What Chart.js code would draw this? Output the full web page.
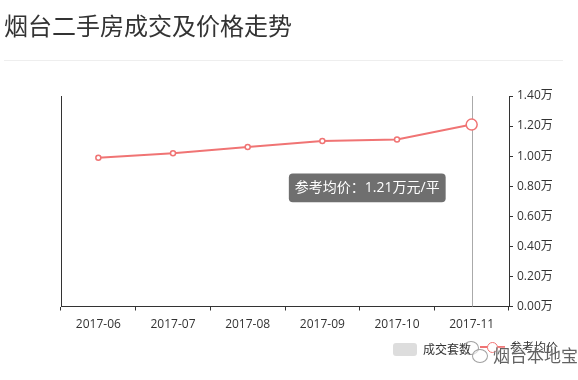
<!DOCTYPE html>
<html>
<head>
<meta charset="utf-8">
<script src="https://cdn.jsdelivr.net/npm/chart.js@4/dist/chart.umd.min.js"></script>
<style>
  body { margin: 0; background: #fff; font-family: "Open Sans", "Noto Sans CJK SC", sans-serif; }
  #wrap { position: relative; width: 578px; height: 380px; overflow: hidden; }
  #title { position: absolute; left: 4px; top: 9px; font-size: 24px; color: #333; font-family: "Noto Sans CJK SC", sans-serif; line-height: 32px; }
  #sep { position: absolute; left: 4px; top: 60px; width: 559px; height: 1px; background: #eee; }
  canvas { position: absolute; left: 0; top: 0; }
  .lg { position: absolute; font-size: 12px; color: #333; font-family: "Noto Sans CJK SC", sans-serif; line-height: 14px; }
  #box1 { position: absolute; left: 393px; top: 343px; width: 24px; height: 13px; border-radius: 3px; background: #ddd; }
  #ln2 { position: absolute; left: 480px; top: 346px; width: 25px; height: 2px; background: #f07474; }
  #dot2 { position: absolute; left: 487px; top: 342px; width: 9px; height: 9px; border: 1.5px solid #f07474; border-radius: 50%; background: #fff; }
  #wm { position: absolute; left: 493px; top: 345px; font-size: 17px; color: rgba(70,70,70,0.85); font-family: "Noto Sans CJK SC", sans-serif; line-height: 20px; text-shadow: 0 0 2px #fff; }
  #wmicon1 { position: absolute; left: 463px; top: 341px; width: 14px; height: 12px; border: 1px solid rgba(120,120,120,0.7); border-radius: 50%; }
  #wmicon2 { position: absolute; left: 472px; top: 349px; width: 14px; height: 12px; border: 1px solid rgba(120,120,120,0.7); border-radius: 50%; background: rgba(255,255,255,0.6); }
</style>
</head>
<body>
<div id="wrap">
  <canvas id="c" width="578" height="380"></canvas>
  <div id="title">烟台二手房成交及价格走势</div>
  <div id="sep"></div>
  <div id="box1"></div>
  <div class="lg" style="left:423px; top:342px;">成交套数</div>
  <div id="ln2"></div>
  <div id="dot2"></div>
  <div class="lg" style="left:510px; top:340px;">参考均价</div>
  <div id="wmicon1"></div>
  <div id="wmicon2"></div>
  <div id="wm">烟台本地宝</div>
</div>
<script>
// data
const months = ['2017-06', '2017-07', '2017-08', '2017-09', '2017-10', '2017-11'];
const dealCount = [];                                   // 成交套数 (no values shown)
const avgPrice = [0.99, 1.02, 1.06, 1.10, 1.11, 1.21];  // 参考均价, 万元/平
const priceTicks = [0, 0.2, 0.4, 0.6, 0.8, 1.0, 1.2, 1.4];

const red = '#f07474';
const axisColor = '#333';
const lastIdx = avgPrice.length - 1;

Chart.Tooltip.positioners.nearLeft = function (items) {
  if (!items.length) return false;
  const el = items[0].element;
  return { x: el.x - 30, y: el.y + 49 };
};

const pointerLine = {
  id: 'pointerLine',
  beforeDatasetsDraw(chart) {
    const meta = chart.getDatasetMeta(1);
    const pt = meta.data[lastIdx];
    const { top, bottom } = chart.chartArea;
    const ctx = chart.ctx;
    ctx.save();
    ctx.strokeStyle = '#aaa';
    ctx.lineWidth = 1;
    ctx.beginPath();
    ctx.moveTo(Math.round(pt.x) + 0.5, top);
    ctx.lineTo(Math.round(pt.x) + 0.5, bottom);
    ctx.stroke();
    ctx.restore();
  }
};

const chart = new Chart(document.getElementById('c'), {
  type: 'line',
  data: {
    labels: months,
    datasets: [
      {
        type: 'bar',
        label: '成交套数',
        data: dealCount,
        backgroundColor: '#ddd',
        yAxisID: 'yCount'
      },
      {
        label: '参考均价',
        data: avgPrice,
        borderColor: red,
        borderWidth: 2,
        backgroundColor: '#fff',
        pointBackgroundColor: '#fff',
        pointBorderColor: red,
        pointBorderWidth: 1.5,
        pointRadius: (c) => c.dataIndex === lastIdx ? 5.5 : 2.5,
        pointHoverRadius: (c) => c.dataIndex === lastIdx ? 5.5 : 2.5,
        tension: 0,
        yAxisID: 'yPrice'
      }
    ]
  },
  options: {
    responsive: false,
    animation: false,
    events: [],
    layout: { padding: { top: 96, left: 0, right: 0, bottom: 0 } },
    plugins: {
      legend: { display: false },
      tooltip: {
        enabled: true,
        position: 'nearLeft',
        xAlign: 'right',
        yAlign: 'top',
        caretSize: 0,
        caretPadding: 0,
        cornerRadius: 4,
        backgroundColor: 'rgba(50,50,50,0.7)',
        displayColors: false,
        padding: { left: 6, right: 6, top: 6, bottom: 6 },
        bodyFont: { size: 14, family: '"Open Sans", "Noto Sans CJK SC", sans-serif' },
        bodyColor: '#fff',
        filter: (item) => item.datasetIndex === 1,
        callbacks: {
          title: () => '',
          label: (item) => '参考均价：' + item.raw.toFixed(2) + '万元/平'
        }
      }
    },
    scales: {
      x: {
        type: 'category',
        offset: true,
        grid: { offset: true, drawOnChartArea: false, drawTicks: true, tickLength: 4, color: axisColor },
        border: { color: axisColor },
        ticks: { color: '#333', padding: 7, font: { size: 12, family: '"Open Sans", sans-serif' } },
        afterFit: (s) => { s.height = 380 - 306.5; }
      },
      yCount: {
        position: 'left',
        beginAtZero: true,
        grid: { drawOnChartArea: false, drawTicks: false },
        border: { color: axisColor },
        ticks: { display: false },
        afterFit: (s) => { s.width = 61; }
      },
      yPrice: {
        position: 'right',
        min: priceTicks[0],
        max: priceTicks[priceTicks.length - 1],
        afterBuildTicks: (s) => { s.ticks = priceTicks.map(v => ({ value: v })); },
        grid: { drawOnChartArea: false, drawTicks: true, tickLength: 4, color: axisColor },
        border: { color: axisColor },
        ticks: {
          color: '#333',
          padding: 4,
          font: { size: 12, family: '"Open Sans", "Noto Sans CJK SC", sans-serif' },
          callback: (v) => Number(v).toFixed(2) + '万'
        },
        afterFit: (s) => { s.width = 578 - 509; }
      }
    }
  },
  plugins: [pointerLine]
});

const pt = chart.getDatasetMeta(1).data[lastIdx];
chart.tooltip.setActiveElements([{ datasetIndex: 1, index: lastIdx }], { x: pt.x, y: pt.y });
chart.update();
</script>
</body>
</html>
